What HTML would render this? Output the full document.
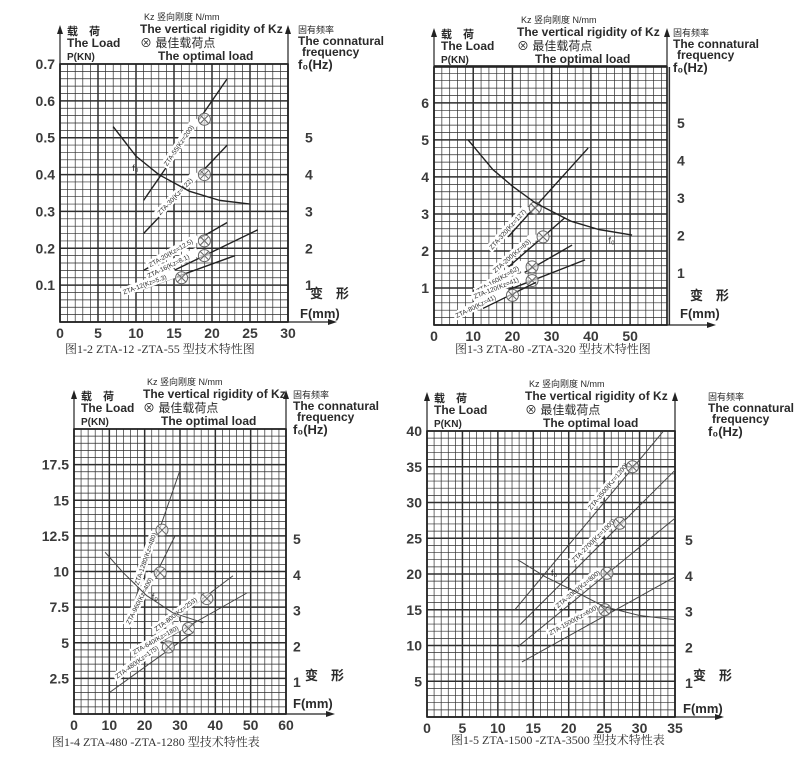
<!DOCTYPE html>
<html><head><meta charset="utf-8"><style>
html,body{margin:0;padding:0;background:#fff;}
svg{display:block;}
text{font-family:"Liberation Sans","Noto Sans CJK SC",sans-serif;fill:#2a2a2a;}
.tk{font-weight:bold;fill:#3a3a3a;}
.cap{font-family:"Liberation Serif","Noto Serif CJK SC",serif;font-size:12px;fill:#333;}
</style></head><body>
<svg id="s" width="810" height="757" xmlns="http://www.w3.org/2000/svg"></svg>
<script>
var charts=[
{L:60,T:64,R:288,B:322,xmax:30,ymax:0.7,xmin:1,xmaj:5,ymin:0.02,ymaj:0.1,lw:1.4,lc:"#222",
 xl:[0,5,10,15,20,25,30],yl:[0.1,0.2,0.3,0.4,0.5,0.6,0.7],yfmt:1,
 fx:305,fy:function(k){return 322-k*0.1*368.6;},kzX:140,rX:298,
 bx:310,by:298,fmx:300,fmy:318,cap:"图1-2  ZTA-12 -ZTA-55 型技术特性图",capx:65,capy:353,
 lines:[[[11,0.33],[22,0.66],[19,0.55],"ZTA-55(Kz=200)"],[[11,0.24],[22,0.48],[19,0.40],"ZTA-30(Kz=122)"],
 [[11,0.14],[22,0.27],[19,0.22],"ZTA-20(Kz=12.5)"],[[11,0.10],[26,0.25],[19,0.18],"ZTA-16(Kz=8.1)"],[[11,0.09],[23,0.18],[16,0.12],"ZTA-12(Kz=5.3)"]],
 f0:[[7,0.53],[10,0.45],[13,0.40],[17,0.355],[21,0.33],[25,0.32]],f0l:[9.5,0.41]},
{L:434,T:67,R:667,B:325,xmax:59.4,ymax:6.97,xmin:2,xmaj:10,ymin:0.2,ymaj:1,lw:1.4,lc:"#222",
 xl:[0,10,20,30,40,50],yl:[1,2,3,4,5,6],yfmt:0,
 fx:677,fy:function(k){return 273-(k-1)*37.5;},kzX:517,rX:673,
 bx:690,by:300,fmx:680,fmy:318,cap:"图1-3  ZTA-80 -ZTA-320 型技术特性图",capx:455,capy:353,
 lines:[[[18.9,2.38],[39.3,4.78],[25.8,3.16],"ZTA-320(Kz=127)"],[[19,1.57],[33.4,2.9],[27.8,2.38],"ZTA-200(Kz=83)"],
 [[19,1.17],[35.2,2.16],[25,1.57],"ZTA-160(Kz=62)"],[[19,0.95],[38.5,1.76],[25,1.2],"ZTA-120(Kz=41)"],[[12.5,0.45],[26,1.15],[20,0.8],"ZTA-80(Kz=41)"]],
 f0:[[8.7,5.0],[15,4.2],[20,3.75],[25.8,3.3],[35,2.8],[42,2.58],[50.5,2.43]],f0l:[44.5,2.2]},
{L:74,T:429,R:286,B:714,xmax:60,ymax:20,xmin:2,xmaj:10,ymin:0.5,ymaj:2.5,lw:1,lc:"#444",
 xl:[0,10,20,30,40,50,60],yl:[2.5,5,7.5,10,12.5,15,17.5],yfmt:-1,
 fx:293,fy:function(k){return 682-(k-1)*35.7;},kzX:143,rX:293,
 bx:305,by:680,fmx:293,fmy:708,cap:"图1-4   ZTA-480 -ZTA-1280 型技术特性表",capx:52,capy:746,
 lines:[[[15,6.4],[30,17.1],[24.9,12.9],"ZTA-1280(Kz=480)"],[[16.4,6.45],[28.6,12.5],[24.4,9.9],"ZTA-960(Kz=400)"],
 [[21.5,5.3],[45,9.7],[37.6,8.1],"ZTA-800(Kz=253)"],[[22,4.7],[49,8.5],[32.4,6],"ZTA-640(Kz=180)"],[[10,1.5],[33,5.6],[26.7,4.7],"ZTA-480(Kz=175)"]],
 f0:[[8.8,11.35],[14,9.9],[20.6,8.3],[28,7.1],[36.6,6.4]],f0l:[22,8]},
{L:427,T:431,R:675,B:717,xmax:35,ymax:40,xmin:1,xmaj:5,ymin:1,ymaj:5,lw:1,lc:"#444",
 xl:[0,5,10,15,20,25,30,35],yl:[5,10,15,20,25,30,35,40],yfmt:0,
 fx:685,fy:function(k){return 683-(k-1)*35.7;},kzX:525,rX:708,
 bx:693,by:680,fmx:683,fmy:713,cap:"图1-5   ZTA-1500 -ZTA-3500 型技术特性表",capx:451,capy:744,
 lines:[[[12.4,15],[33.3,39.9],[29,35],"ZTA-3500(Kz=1200)"],[[13.1,12.9],[35,34.5],[27.2,27.1],"ZTA-2700(Kz=1000)"],
 [[12.8,9.8],[35,27.8],[25.4,20.1],"ZTA-2000(Kz=800)"],[[13.4,7.7],[35,19.6],[25.1,15],"ZTA-1500(Kz=600)"]],
 f0:[[12.8,22],[16.7,19.6],[21,17.5],[25.1,15.4],[30,14.2],[35,13.6]],f0l:[17.5,19.7]}
];
var o=[];
function t(x,y,s,sz,anchor,extra){o.push('<text x="'+x+'" y="'+y+'" font-size="'+sz+'"'+(anchor?' text-anchor="'+anchor+'"':'')+(extra||'')+'>'+s+'</text>');}
charts.forEach(function(c){
 var sx=(c.R-c.L)/c.xmax, sy=(c.B-c.T)/c.ymax;
 function X(v){return c.L+v*sx;} function Y(v){return c.B-v*sy;}
 var n=Math.round(c.xmax/c.xmin);
 for(var i=0;i<=n;i++){var v=i*c.xmin,x=X(v);var maj=Math.abs(v/c.xmaj-Math.round(v/c.xmaj))<1e-6;
  o.push('<line x1="'+x+'" y1="'+c.T+'" x2="'+x+'" y2="'+c.B+'" stroke="#2e2e2e" stroke-width="'+(maj?1.5:0.7)+'"/>');}
 n=Math.round(c.ymax/c.ymin);
 for(i=0;i<=n;i++){var v=i*c.ymin,y=Y(v);var maj=Math.abs(v/c.ymaj-Math.round(v/c.ymaj))<1e-6;
  o.push('<line x1="'+c.L+'" y1="'+y+'" x2="'+c.R+'" y2="'+y+'" stroke="#2e2e2e" stroke-width="'+(maj?1.5:0.7)+'"/>');}
 o.push('<rect x="'+c.L+'" y="'+c.T+'" width="'+(c.R-c.L)+'" height="'+(c.B-c.T)+'" fill="none" stroke="#222" stroke-width="1.6"/>');
 o.push('<line x1="'+c.L+'" y1="'+c.B+'" x2="'+c.L+'" y2="'+(c.T-36)+'" stroke="#222" stroke-width="1.2"/><path d="M'+(c.L-3)+' '+(c.T-30)+'L'+c.L+' '+(c.T-39)+'L'+(c.L+3)+' '+(c.T-30)+'Z" fill="#222"/>');
 o.push('<line x1="'+c.R+'" y1="'+c.B+'" x2="'+c.R+'" y2="'+(c.T-36)+'" stroke="#222" stroke-width="1.2"/><path d="M'+(c.R-3)+' '+(c.T-30)+'L'+c.R+' '+(c.T-39)+'L'+(c.R+3)+' '+(c.T-30)+'Z" fill="#222"/>');
 o.push('<line x1="'+c.L+'" y1="'+c.B+'" x2="'+(c.R+44)+'" y2="'+c.B+'" stroke="#222" stroke-width="1.2"/><path d="M'+(c.R+40)+' '+(c.B-3)+'L'+(c.R+49)+' '+c.B+'L'+(c.R+40)+' '+(c.B+3)+'Z" fill="#222"/>');
 c.xl.forEach(function(v){t(X(v),c.B+16,v,14,'middle',' class="tk"');});
 c.yl.forEach(function(v){t(c.L-5,Y(v)+5,c.yfmt==1?v.toFixed(1):v,14,'end',' class="tk"');});
 [1,2,3,4,5].forEach(function(k){t(c.fx,c.fy(k)+5,k,14,null,' class="tk"');});
 t(c.L+7,c.T-29,'载　荷',11,null,' font-weight="bold"');t(c.L+7,c.T-17,'The Load',12,null,' font-weight="bold"');t(c.L+7,c.T-4,'P(KN)',10,null,' font-weight="bold"');
 t(c.kzX+4,c.T-44,'Kz 竖向刚度 N/mm',9,null,' fill="#555"');
 t(c.kzX,c.T-31,'The vertical rigidity of Kz',12,null,' font-weight="bold"');
 t(c.kzX,c.T-17,'⊗ 最佳载荷点',12);
 t(c.kzX+18,c.T-4,'The optimal load',12,null,' font-weight="bold"');
 t(c.rX,c.T-31,'固有频率',9);t(c.rX,c.T-19,'The connatural',12,null,' font-weight="bold"');t(c.rX+4,c.T-8,'frequency',12,null,' font-weight="bold"');t(c.rX,c.T+5,'f₀(Hz)',13,null,' font-weight="bold"');
 t(c.bx,c.by,'变　形',13,null,' font-weight="bold"');t(c.fmx,c.fmy,'F(mm)',13,null,' font-weight="bold"');
 o.push('<text class="cap" x="'+c.capx+'" y="'+c.capy+'">'+c.cap+'</text>');
 c.lines.forEach(function(l){
  var x1=X(l[0][0]),y1=Y(l[0][1]),x2=X(l[1][0]),y2=Y(l[1][1]),mx=X(l[2][0]),my=Y(l[2][1]);
  o.push('<line x1="'+x1+'" y1="'+y1+'" x2="'+x2+'" y2="'+y2+'" stroke="'+c.lc+'" stroke-width="'+c.lw+'"/>');
  var ang=Math.atan2(y2-y1,x2-x1)*180/Math.PI;
  o.push('<g transform="translate('+mx+','+my+') rotate('+ang+')"><rect x="-62" y="-11" width="58" height="9" fill="#fff"/><text x="-60" y="-4" font-size="6.5" fill="#666">'+l[3]+'</text></g>');
  o.push('<circle cx="'+mx+'" cy="'+my+'" r="6" fill="#fff" fill-opacity="0.6" stroke="#666" stroke-width="1"/><path d="M'+(mx-4)+' '+(my-4)+'L'+(mx+4)+' '+(my+4)+'M'+(mx+4)+' '+(my-4)+'L'+(mx-4)+' '+(my+4)+'" stroke="#666" stroke-width="1"/>');
 });
 var d='M'+c.f0.map(function(p){return X(p[0])+' '+Y(p[1]);}).join(' L');
 o.push('<path d="'+d+'" fill="none" stroke="'+c.lc+'" stroke-width="'+c.lw+'" stroke-linejoin="round"/>');
 t(X(c.f0l[0]),Y(c.f0l[1]),'f₀',9);
});
document.getElementById('s').innerHTML=o.join('');
</script>
</body></html>
